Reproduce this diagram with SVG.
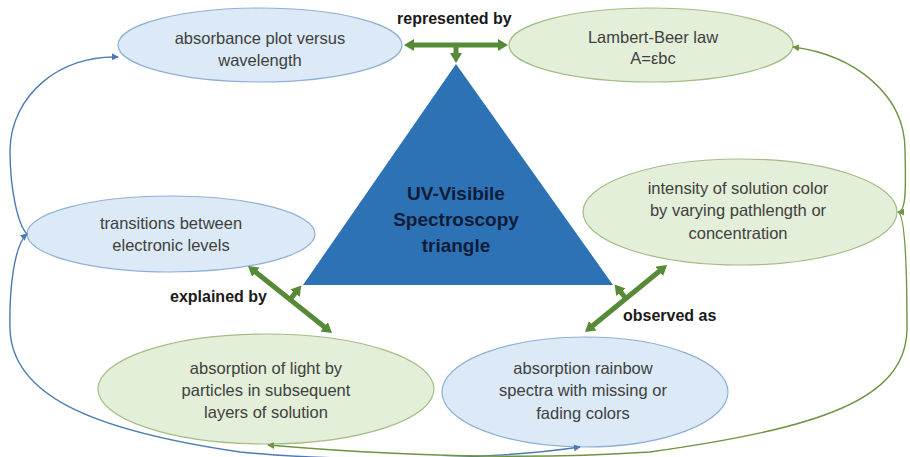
<svg xmlns="http://www.w3.org/2000/svg" width="910" height="457" viewBox="0 0 910 457">
<style>
.bl{fill:#dce9f6;stroke:#8fb0d6;stroke-width:1.2}
.gr{fill:#e3efd8;stroke:#a3bd85;stroke-width:1.2}
.t{font-family:"Liberation Sans",Arial,sans-serif;font-size:16.5px;fill:#404040;text-anchor:middle}
.lbl{font-family:"Liberation Sans",Arial,sans-serif;font-size:16px;font-weight:bold;fill:#1a1a1a}
.tri{font-family:"Liberation Sans",Arial,sans-serif;font-size:19px;font-weight:bold;fill:#0e1c38;text-anchor:middle}
.thick{stroke:#578a36;stroke-width:5;fill:none}
.tb{stroke:#4a7bb5;stroke-width:1.4;fill:none}
.tg{stroke:#6f9442;stroke-width:1.4;fill:none}
</style>
<defs>
<marker id="ah" viewBox="0 0 10 12" markerWidth="10" markerHeight="12" refX="4" refY="6" orient="auto-start-reverse" markerUnits="userSpaceOnUse"><path d="M0,0 L10,6 L0,12 z" fill="#578a36"/></marker>
<marker id="ab" viewBox="0 0 8 8" markerWidth="7" markerHeight="7" refX="7" refY="4" orient="auto-start-reverse" markerUnits="userSpaceOnUse"><path d="M0,0 L8,4 L0,8 z" fill="#4a7bb5"/></marker>
<marker id="ag" viewBox="0 0 8 8" markerWidth="7" markerHeight="7" refX="7" refY="4" orient="auto-start-reverse" markerUnits="userSpaceOnUse"><path d="M0,0 L8,4 L0,8 z" fill="#6f9442"/></marker>
</defs>

<g id="triangle">
<polygon points="456,64 303,285 613,285" fill="#2e72b6"/>
<text class="tri" x="456" y="200">UV-Visibile</text>
<text class="tri" x="456" y="226">Spectroscopy</text>
<text class="tri" x="456" y="252">triangle</text>
</g>

<g id="absorbance-plot">
<ellipse class="bl" cx="260" cy="45" rx="142" ry="37"/>
<text class="t" x="260" y="44">absorbance plot versus</text>
<text class="t" x="260" y="66">wavelength</text>
</g>

<g id="lambert-beer">
<ellipse class="gr" cx="651" cy="45" rx="142" ry="37"/>
<text class="t" x="653" y="43">Lambert-Beer law</text>
<text class="t" x="653" y="64">A=εbc</text>
</g>

<g id="transitions">
<ellipse class="bl" cx="171" cy="234" rx="144" ry="38"/>
<text class="t" x="171" y="229">transitions between</text>
<text class="t" x="171" y="251">electronic levels</text>
</g>

<g id="intensity">
<ellipse class="gr" cx="740" cy="212" rx="157" ry="53"/>
<text class="t" x="738" y="194">intensity of solution color</text>
<text class="t" x="738" y="216">by varying pathlength or</text>
<text class="t" x="738" y="239">concentration</text>
</g>

<g id="absorption-light">
<ellipse class="gr" cx="266" cy="389" rx="168" ry="55"/>
<text class="t" x="266" y="374">absorption of light by</text>
<text class="t" x="266" y="396">particles in subsequent</text>
<text class="t" x="266" y="418">layers of solution</text>
</g>

<g id="rainbow">
<ellipse class="bl" cx="585" cy="392" rx="143" ry="55"/>
<text class="t" x="583" y="374">absorption rainbow</text>
<text class="t" x="583" y="396">spectra with missing or</text>
<text class="t" x="583" y="419">fading colors</text>
</g>

<g id="connectors">
<line class="thick" x1="410" y1="45" x2="502" y2="45" marker-start="url(#ah)" marker-end="url(#ah)"/>
<line class="thick" x1="456" y1="45" x2="456" y2="57" marker-end="url(#ah)"/>
<line class="thick" x1="252.7" y1="269.7" x2="327.3" y2="329.3" marker-start="url(#ah)" marker-end="url(#ah)"/>
<line class="thick" x1="290" y1="299.5" x2="297.5" y2="290.1" marker-end="url(#ah)"/>
<line class="thick" x1="662.4" y1="268.8" x2="589.6" y2="328.2" marker-start="url(#ah)" marker-end="url(#ah)"/>
<line class="thick" x1="626" y1="298.5" x2="618.4" y2="289.2" marker-end="url(#ah)"/>

<path class="tb" d="M27,234 C18,225 10,190 10,150 C11,95 60,55 118,57" marker-end="url(#ab)"/>
<path class="tb" d="M27,234 C14,245 9,290 10,330 C13,395 90,430 240,452 C350,463 500,459 580,447" marker-start="url(#ab)" marker-end="url(#ab)"/>
<path class="tg" d="M793,47 C855,55 905,95 905,150 C906,190 906,212 898,212" marker-start="url(#ag)" marker-end="url(#ag)"/>
<path class="tg" d="M898,212 C906,214 907,280 907,330 C905,400 820,428 650,452 C500,462 350,452 268,445" marker-end="url(#ag)"/>
</g>

<g id="labels">
<text class="lbl" x="397" y="24">represented by</text>
<text class="lbl" x="170" y="302">explained by</text>
<text class="lbl" x="623" y="321">observed as</text>
</g>
</svg>
